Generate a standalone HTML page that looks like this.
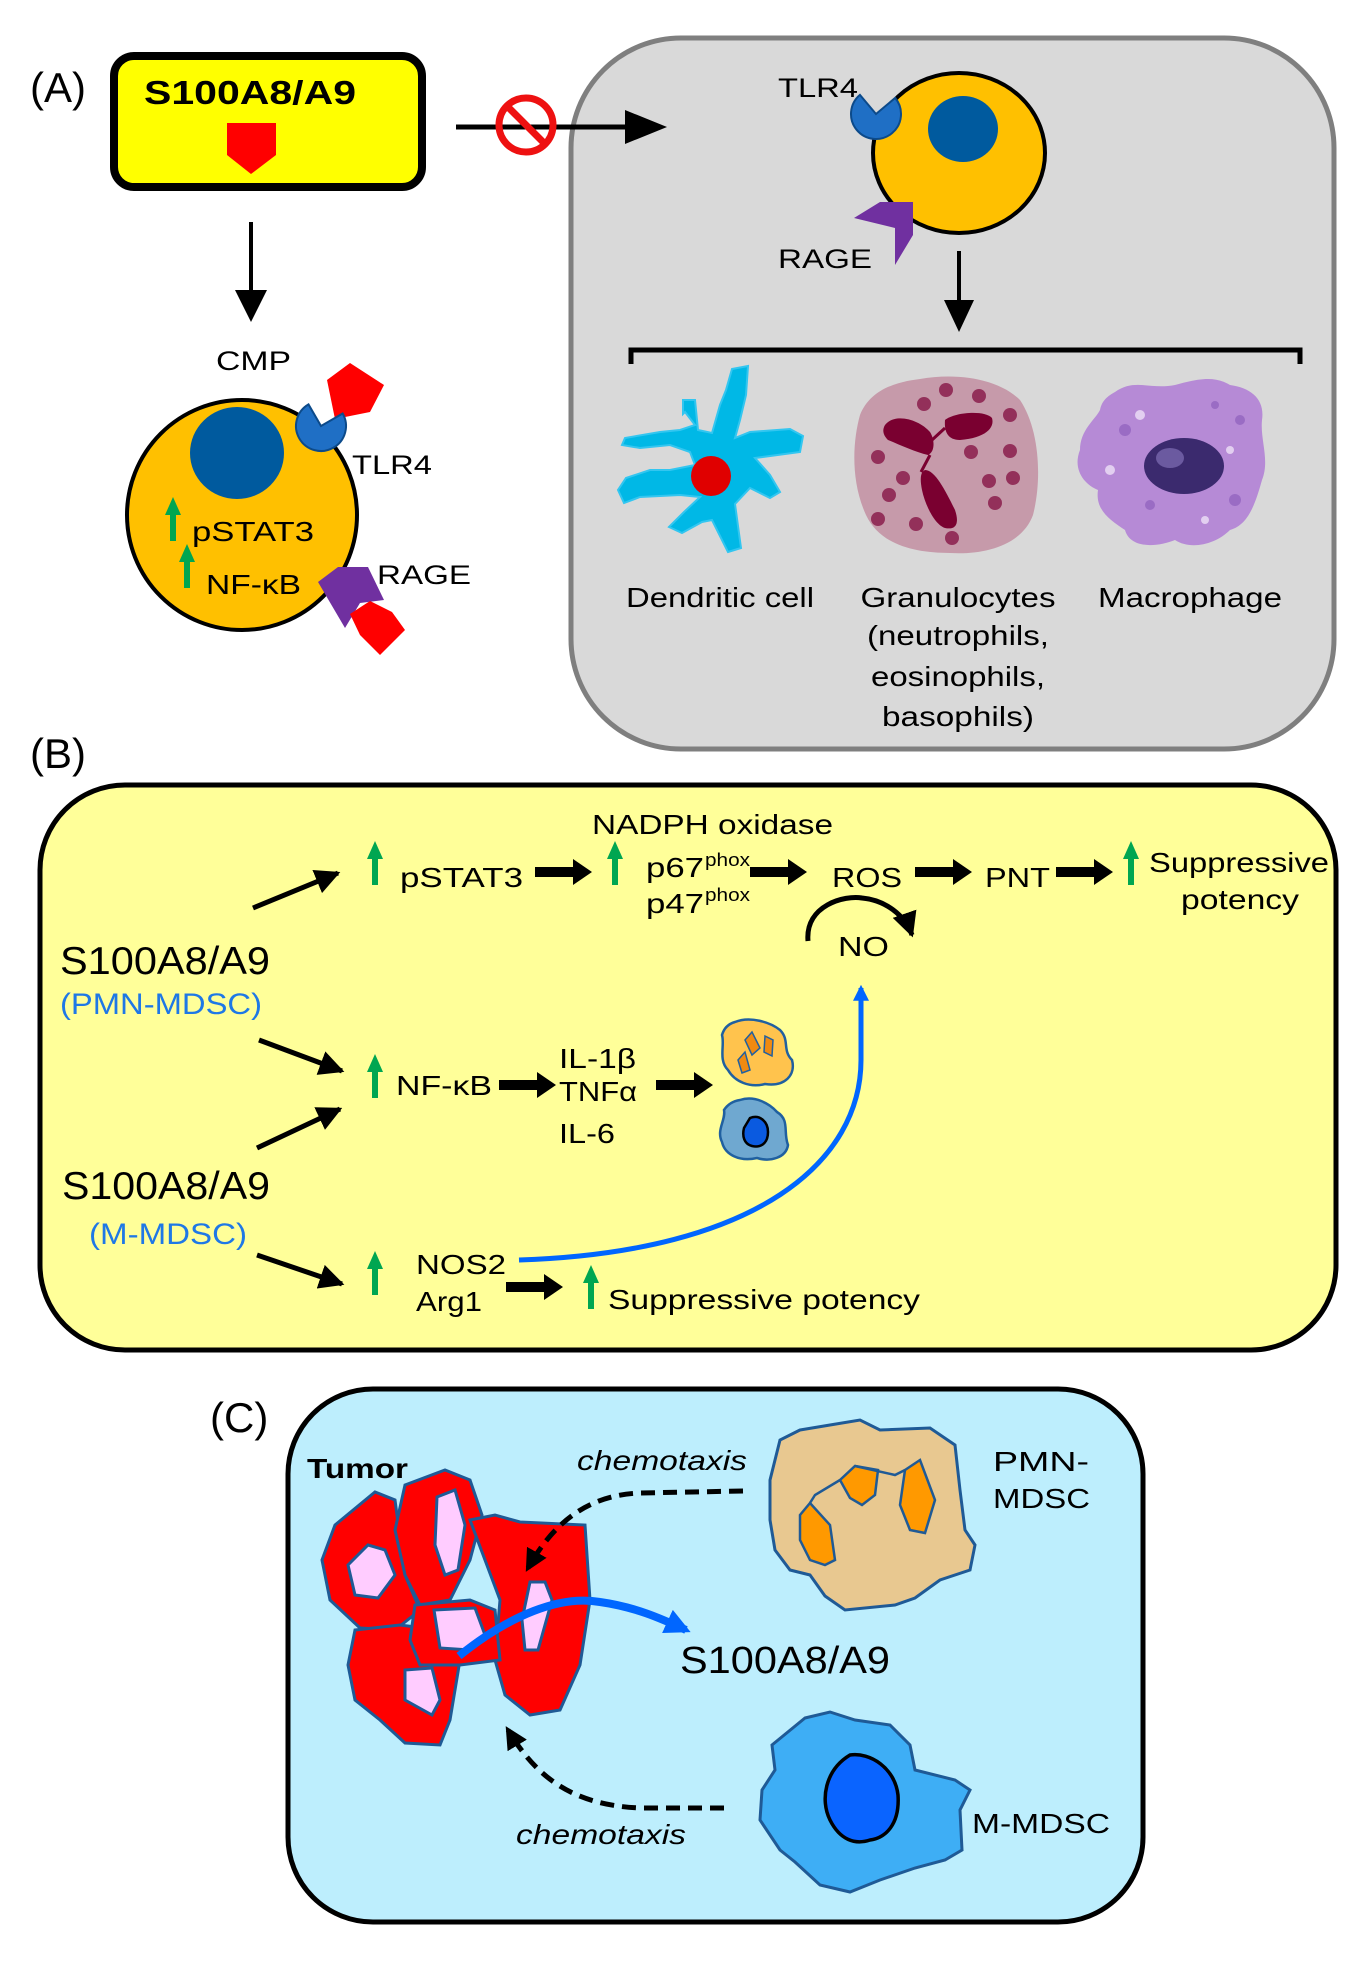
<!DOCTYPE html>
<html><head><meta charset="utf-8"><style>
html,body{margin:0;padding:0;background:#fff}
svg{display:block}
text{font-family:"Liberation Sans",sans-serif;fill:#000}
</style></head><body>
<svg width="1351" height="1962" viewBox="0 0 1351 1962" xmlns="http://www.w3.org/2000/svg">
<defs>
<marker id="ah" viewBox="0 0 10 10" refX="9" refY="5" markerWidth="5" markerHeight="5" orient="auto"><path d="M0,0L10,5L0,10z" fill="#000"/></marker>
<marker id="ahb" viewBox="0 0 10 10" refX="8" refY="5" markerWidth="3.2" markerHeight="3.2" orient="auto"><path d="M0,0L10,5L0,10z" fill="#0066ff"/></marker>
<marker id="ahd" viewBox="0 0 10 10" refX="8" refY="5" markerWidth="4.5" markerHeight="4.5" orient="auto"><path d="M0,0L10,5L0,10z" fill="#000"/></marker>
<g id="garrow"><path d="M0,-22 L-8,-4 L-3,-4 L-3,22 L3,22 L3,-4 L8,-4 Z" fill="#00a651"/></g>
<g id="barrow"><path d="M0,-5 L38,-5 L38,-13 L57,0 L38,13 L38,5 L0,5 Z" fill="#000"/></g>
</defs>

<!-- ===== Panel A ===== -->
<text x="30" y="102" font-size="42">(A)</text>
<rect x="114" y="56" width="308" height="131" rx="20" fill="#ffff00" stroke="#000" stroke-width="8"/>
<text x="144" y="104" font-size="33" font-weight="bold" textLength="212" lengthAdjust="spacingAndGlyphs">S100A8/A9</text>
<path d="M227,123 L276,123 L276,155 L251,174 L227,155 Z" fill="#ff0000"/>

<!-- gray box -->
<rect x="571" y="38" width="763" height="711" rx="110" fill="#d9d9d9" stroke="#7f7f7f" stroke-width="5"/>

<!-- arrow to gray box -->
<line x1="456" y1="127" x2="630" y2="127" stroke="#000" stroke-width="5"/>
<path d="M625,110 L667,127 L625,144 Z" fill="#000"/>
<circle cx="526" cy="125" r="27" fill="none" stroke="#ee1111" stroke-width="7"/>
<line x1="508" y1="107" x2="544" y2="143" stroke="#ee1111" stroke-width="7"/>

<ellipse cx="959" cy="153" rx="86" ry="80" fill="#ffc000" stroke="#000" stroke-width="4"/>
<ellipse cx="963" cy="129" rx="35" ry="33" fill="#005a9e"/>
<path d="M876,114 m0,-25 a25,25 0 1,0 25,25 L876,114 Z" fill="#1f6fc5" stroke="#0c4a8a" stroke-width="2" transform="rotate(-40 876 114)"/>
<text x="778" y="97" font-size="27" textLength="80" lengthAdjust="spacingAndGlyphs">TLR4</text>
<path d="M854,218 L880,202 L913,202 L913,235 L895,265 L895,228 Z" fill="#7030a0"/>
<text x="778" y="268" font-size="27" textLength="94" lengthAdjust="spacingAndGlyphs">RAGE</text>
<line x1="959" y1="251" x2="959" y2="305" stroke="#000" stroke-width="4"/>
<path d="M944,300 L959,332 L974,300 Z" fill="#000"/>
<path d="M631,364 L631,350 L1300,350 L1300,364" fill="none" stroke="#000" stroke-width="5"/>

<!-- dendritic cell -->
<path d="M732,369 L748,366 L746,395 L740,420 L735,438 L750,432 L790,429 L803,436 L800,452 L755,458 L770,475 L780,492 L770,498 L750,488 L735,504 L741,548 L728,552 L712,520 L702,522 L682,533 L669,527 L684,512 L700,497 L680,495 L640,497 L624,503 L618,490 L626,478 L650,470 L670,470 L695,465 L690,452 L670,445 L640,448 L622,445 L625,438 L660,432 L680,430 L695,425 L685,412 L683,414 L683,400 L695,400 L698,430 L712,433 L720,405 L726,390 Z" fill="#00b8e6" stroke="#33c6f0" stroke-width="2"/>
<circle cx="711" cy="476" r="20" fill="#e00000"/>

<!-- granulocyte -->
<path d="M920,379 C960,372 1000,380 1020,400 C1040,430 1042,480 1033,515 C1022,545 985,555 950,553 C915,553 880,545 866,515 C850,480 853,440 860,415 C870,390 895,382 920,379 Z" fill="#c69aaa"/>
<path d="M885,425 C895,412 920,420 930,432 C935,440 935,452 928,455 C915,452 900,445 888,440 C883,435 882,430 885,425 Z" fill="#7a0030"/>
<path d="M945,420 C955,412 985,410 992,418 C995,428 985,438 960,440 C948,440 944,432 945,420 Z" fill="#7a0030"/>
<path d="M925,470 C935,470 945,490 955,510 C960,525 955,530 945,528 C935,525 925,505 922,490 C920,480 920,472 925,470 Z" fill="#7a0030"/>
<path d="M930,455 L921,472 M932,440 L945,428" stroke="#7a0030" stroke-width="3" fill="none"/>
<g fill="#93305a">
<circle cx="946" cy="390" r="7"/><circle cx="979" cy="396" r="7"/><circle cx="924" cy="404" r="7"/><circle cx="1010" cy="415" r="7"/><circle cx="1010" cy="451" r="7"/><circle cx="971" cy="452" r="7"/><circle cx="878" cy="457" r="7"/><circle cx="903" cy="478" r="7"/><circle cx="989" cy="481" r="7"/><circle cx="1013" cy="478" r="7"/><circle cx="889" cy="495" r="7"/><circle cx="995" cy="503" r="7"/><circle cx="878" cy="519" r="7"/><circle cx="916" cy="524" r="7"/><circle cx="952" cy="538" r="7"/>
</g>

<!-- macrophage -->
<path d="M1115,392 C1135,378 1150,390 1175,385 C1200,378 1215,376 1230,385 C1252,388 1265,400 1262,420 C1260,440 1270,460 1262,480 C1255,505 1248,525 1230,530 C1215,545 1190,550 1175,540 C1155,548 1130,548 1125,530 C1110,520 1095,510 1098,490 C1085,485 1072,470 1080,450 C1080,430 1095,420 1100,410 C1102,400 1108,396 1115,392 Z" fill="#b68ad6"/>
<g fill="#9a6cc4"><circle cx="1125" cy="430" r="6"/><circle cx="1240" cy="420" r="5"/><circle cx="1235" cy="500" r="6"/><circle cx="1150" cy="505" r="5"/><circle cx="1215" cy="405" r="4"/></g>
<g fill="#e2cff0"><circle cx="1140" cy="415" r="5"/><circle cx="1230" cy="450" r="4"/><circle cx="1110" cy="470" r="5"/><circle cx="1205" cy="520" r="4"/></g>
<ellipse cx="1184" cy="466" rx="40" ry="28" fill="#3b2a6e"/>
<ellipse cx="1170" cy="458" rx="14" ry="10" fill="#6b5aa0"/>

<g font-size="28" text-anchor="middle">
<text x="720" y="607" textLength="188" lengthAdjust="spacingAndGlyphs">Dendritic cell</text>
<text x="958" y="607" textLength="195" lengthAdjust="spacingAndGlyphs">Granulocytes</text>
<text x="958" y="645" textLength="182" lengthAdjust="spacingAndGlyphs">(neutrophils,</text>
<text x="958" y="686" textLength="174" lengthAdjust="spacingAndGlyphs">eosinophils,</text>
<text x="958" y="726" textLength="152" lengthAdjust="spacingAndGlyphs">basophils)</text>
<text x="1190" y="607" textLength="184" lengthAdjust="spacingAndGlyphs">Macrophage</text>
</g>

<!-- CMP -->
<line x1="251" y1="222" x2="251" y2="295" stroke="#000" stroke-width="4"/>
<path d="M235,290 L251,322 L267,290 Z" fill="#000"/>
<text x="216" y="370" font-size="27" textLength="75" lengthAdjust="spacingAndGlyphs">CMP</text>
<ellipse cx="242" cy="515" rx="115" ry="115" fill="#ffc000" stroke="#000" stroke-width="4"/>
<ellipse cx="237" cy="453" rx="47" ry="46" fill="#005a9e"/>
<path d="M327,380 L350,363 L384,385 L370,412 L335,419 Z" fill="#ff0000"/>
<path d="M321,426 m0,-25 a25,25 0 1,0 25,25 L321,426 Z" fill="#1f6fc5" stroke="#0c4a8a" stroke-width="2" transform="rotate(-30 321 426)"/>
<text x="352" y="474" font-size="27" textLength="80" lengthAdjust="spacingAndGlyphs">TLR4</text>
<use href="#garrow" x="173" y="519"/>
<text x="192" y="541" font-size="28" textLength="122" lengthAdjust="spacingAndGlyphs">pSTAT3</text>
<use href="#garrow" x="187" y="566"/>
<text x="206" y="594" font-size="28" textLength="95" lengthAdjust="spacingAndGlyphs">NF-κB</text>
<path d="M318,582 L338,567 L368,567 L384,600 L360,603 L345,628 Z" fill="#7030a0"/>
<path d="M350,614 L370,601 L392,612 L405,630 L380,655 L360,635 Z" fill="#ff0000"/>
<text x="377" y="584" font-size="27" textLength="94" lengthAdjust="spacingAndGlyphs">RAGE</text>

<!-- ===== Panel B ===== -->
<text x="30" y="768" font-size="42">(B)</text>
<rect x="40" y="785" width="1296" height="565" rx="85" fill="#ffff99" stroke="#000" stroke-width="5"/>
<g font-size="28">
<text x="592" y="834" textLength="241" lengthAdjust="spacingAndGlyphs">NADPH oxidase</text>
<use href="#garrow" x="375" y="863"/>
<text x="400" y="887" textLength="123" lengthAdjust="spacingAndGlyphs">pSTAT3</text>
<use href="#barrow" x="535" y="872"/>
<use href="#garrow" x="615" y="863"/>
<text x="646" y="877" textLength="58" lengthAdjust="spacingAndGlyphs">p67</text>
<text x="705" y="866" font-size="18" textLength="45" lengthAdjust="spacingAndGlyphs">phox</text>
<text x="646" y="913" textLength="58" lengthAdjust="spacingAndGlyphs">p47</text>
<text x="705" y="901" font-size="18" textLength="45" lengthAdjust="spacingAndGlyphs">phox</text>
<use href="#barrow" x="750" y="872"/>
<text x="832" y="887" textLength="70" lengthAdjust="spacingAndGlyphs">ROS</text>
<use href="#barrow" x="915" y="872"/>
<text x="985" y="887" textLength="65" lengthAdjust="spacingAndGlyphs">PNT</text>
<use href="#barrow" x="1056" y="872"/>
<use href="#garrow" x="1131" y="863"/>
<text x="1149" y="872" textLength="180" lengthAdjust="spacingAndGlyphs">Suppressive</text>
<text x="1181" y="909" textLength="118" lengthAdjust="spacingAndGlyphs">potency</text>
<text x="838" y="956" textLength="51" lengthAdjust="spacingAndGlyphs">NO</text>
</g>
<path d="M808,941 C805,905 845,895 862,898 C885,900 905,915 912,935" fill="none" stroke="#000" stroke-width="5" marker-end="url(#ah)"/>

<text x="60" y="974" font-size="39" textLength="210" lengthAdjust="spacingAndGlyphs">S100A8/A9</text>
<text x="60" y="1014" font-size="30" style="fill:#1f78e6" textLength="202" lengthAdjust="spacingAndGlyphs">(PMN-MDSC)</text>
<text x="62" y="1199" font-size="39" textLength="208" lengthAdjust="spacingAndGlyphs">S100A8/A9</text>
<text x="89" y="1244" font-size="30" style="fill:#1f78e6" textLength="158" lengthAdjust="spacingAndGlyphs">(M-MDSC)</text>

<g stroke="#000" stroke-width="5" marker-end="url(#ah)">
<line x1="253" y1="908" x2="338" y2="873"/>
<line x1="259" y1="1040" x2="342" y2="1071"/>
<line x1="257" y1="1148" x2="340" y2="1109"/>
<line x1="257" y1="1255" x2="342" y2="1284"/>
</g>

<g font-size="28">
<use href="#garrow" x="375" y="1076"/>
<text x="396" y="1095" textLength="96" lengthAdjust="spacingAndGlyphs">NF-κB</text>
<use href="#barrow" x="499" y="1085"/>
<text x="559" y="1068" textLength="77" lengthAdjust="spacingAndGlyphs">IL-1β</text>
<text x="559" y="1101" textLength="78" lengthAdjust="spacingAndGlyphs">TNFα</text>
<text x="559" y="1143" textLength="56" lengthAdjust="spacingAndGlyphs">IL-6</text>
<use href="#barrow" x="656" y="1085"/>
<use href="#garrow" x="375" y="1273"/>
<text x="416" y="1274" textLength="90" lengthAdjust="spacingAndGlyphs">NOS2</text>
<text x="416" y="1311" textLength="66" lengthAdjust="spacingAndGlyphs">Arg1</text>
<use href="#barrow" x="506" y="1287"/>
<use href="#garrow" x="591" y="1287"/>
<text x="608" y="1309" textLength="312" lengthAdjust="spacingAndGlyphs">Suppressive potency</text>
</g>
<!-- small cells in B -->
<path d="M735,1022 C750,1016 770,1022 780,1030 C790,1040 782,1050 792,1060 C796,1075 785,1087 765,1084 C750,1088 735,1082 728,1070 C718,1060 725,1045 722,1035 C724,1028 728,1024 735,1022 Z" fill="#ffc34d" stroke="#2060a0" stroke-width="2.5"/>
<path d="M745,1040 L752,1032 L760,1048 L752,1055 Z M765,1036 L773,1040 L772,1056 L764,1052 Z M738,1060 L745,1052 L750,1070 L742,1073 Z" fill="#f08a10" stroke="#2060a0" stroke-width="1.5"/>
<path d="M740,1100 C755,1095 770,1104 777,1112 C790,1120 783,1132 788,1145 C786,1158 770,1162 757,1158 C740,1162 725,1155 722,1142 C716,1130 726,1120 724,1110 C728,1104 733,1101 740,1100 Z" fill="#6fa8d0" stroke="#2060a0" stroke-width="2.5"/>
<path d="M750,1118 C760,1114 768,1122 768,1132 C768,1144 760,1148 752,1146 C744,1144 742,1136 744,1128 Z" fill="#0a5ae0" stroke="#000" stroke-width="2.5"/>
<!-- blue curve -->
<path d="M519,1260 C760,1252 861,1160 861,1060 L861,988" fill="none" stroke="#0066ff" stroke-width="5" marker-end="url(#ahb)"/>

<!-- ===== Panel C ===== -->
<text x="210" y="1432" font-size="42">(C)</text>
<rect x="288" y="1389" width="855" height="533" rx="85" fill="#bdeefd" stroke="#000" stroke-width="5"/>
<text x="307" y="1478" font-size="28" font-weight="bold" textLength="101" lengthAdjust="spacingAndGlyphs">Tumor</text>
<g stroke="#1f5a96" stroke-width="3">
<path d="M335,1525 L375,1492 L395,1500 L405,1575 L420,1610 L395,1630 L360,1628 L330,1600 L322,1560 Z" fill="#ff0000"/>
<path d="M405,1485 L445,1470 L470,1480 L482,1515 L470,1560 L450,1600 L420,1605 L405,1575 L395,1530 Z" fill="#ff0000"/>
<path d="M470,1520 L495,1515 L520,1522 L585,1525 L590,1600 L580,1665 L560,1710 L530,1715 L505,1695 L495,1660 L500,1600 Z" fill="#ff0000"/>
<path d="M355,1630 L400,1625 L440,1630 L460,1660 L450,1720 L440,1745 L405,1743 L380,1720 L355,1700 L348,1665 Z" fill="#ff0000"/>
<path d="M415,1605 L470,1600 L495,1610 L500,1660 L460,1665 L420,1665 L410,1640 Z" fill="#ff0000"/>
<path d="M348,1565 L368,1545 L385,1550 L395,1575 L378,1598 L355,1595 Z" fill="#ffccff"/>
<path d="M437,1497 L455,1490 L465,1525 L458,1570 L445,1575 L435,1545 Z" fill="#ffccff"/>
<path d="M434,1610 L475,1608 L485,1635 L470,1650 L440,1648 Z" fill="#ffccff"/>
<path d="M530,1582 L545,1582 L552,1600 L538,1650 L525,1650 L522,1620 Z" fill="#ffccff"/>
<path d="M405,1670 L432,1668 L440,1700 L432,1715 L405,1700 Z" fill="#ffccff"/>
</g>
<text x="577" y="1470" font-size="28" font-style="italic" textLength="170" lengthAdjust="spacingAndGlyphs">chemotaxis</text>
<text x="516" y="1844" font-size="28" font-style="italic" textLength="170" lengthAdjust="spacingAndGlyphs">chemotaxis</text>
<path d="M800,1430 L830,1425 L860,1420 L880,1430 L930,1428 L955,1445 L960,1490 L965,1530 L975,1545 L970,1570 L940,1580 L915,1598 L895,1605 L845,1610 L825,1596 L810,1575 L790,1570 L775,1550 L770,1520 L770,1480 L780,1440 Z" fill="#e8c890" stroke="#1f5a96" stroke-width="3"/>
<path d="M840,1480 L855,1466 L878,1470 L875,1495 L862,1505 L850,1498 Z" fill="#ff9900" stroke="#1f5a96" stroke-width="2.5"/>
<path d="M905,1470 L920,1460 L935,1500 L925,1533 L910,1530 L900,1505 Z" fill="#ff9900" stroke="#1f5a96" stroke-width="2.5"/>
<path d="M800,1515 L810,1503 L830,1525 L835,1560 L825,1565 L810,1560 L800,1540 Z" fill="#ff9900" stroke="#1f5a96" stroke-width="2.5"/>
<path d="M855,1466 L895,1475 L905,1470" fill="none" stroke="#1f5a96" stroke-width="2.5"/>
<path d="M840,1480 L815,1495 L810,1503" fill="none" stroke="#1f5a96" stroke-width="2.5"/>
<text x="993" y="1471" font-size="28" textLength="96" lengthAdjust="spacingAndGlyphs">PMN-</text>
<text x="993" y="1508" font-size="28" textLength="97" lengthAdjust="spacingAndGlyphs">MDSC</text>
<path d="M805,1718 L830,1712 L855,1720 L890,1725 L910,1745 L915,1770 L955,1780 L970,1790 L960,1810 L962,1850 L945,1860 L915,1868 L880,1880 L850,1892 L820,1885 L795,1862 L780,1850 L760,1820 L762,1790 L775,1770 L772,1745 Z" fill="#3eaef5" stroke="#1f5a96" stroke-width="3"/>
<path d="M850,1755 C870,1752 895,1768 898,1795 C900,1825 885,1838 870,1840 C855,1845 840,1840 830,1820 C820,1800 825,1770 850,1755 Z" fill="#0a64ff" stroke="#000" stroke-width="3.5"/>
<text x="972" y="1833" font-size="28" textLength="138" lengthAdjust="spacingAndGlyphs">M-MDSC</text>
<path d="M743,1491 L640,1493 C590,1495 555,1520 528,1568" fill="none" stroke="#000" stroke-width="5" stroke-dasharray="14,8" marker-end="url(#ahd)"/>
<path d="M724,1808 L640,1808 C570,1805 535,1775 508,1730" fill="none" stroke="#000" stroke-width="5" stroke-dasharray="14,8" marker-end="url(#ahd)"/>
<path d="M459,1656 C510,1615 560,1595 600,1602 C635,1607 660,1618 686,1630" fill="none" stroke="#0066ff" stroke-width="8" marker-end="url(#ahb)"/>
<text x="680" y="1673" font-size="38" textLength="210" lengthAdjust="spacingAndGlyphs">S100A8/A9</text>
</svg>
</body></html>
